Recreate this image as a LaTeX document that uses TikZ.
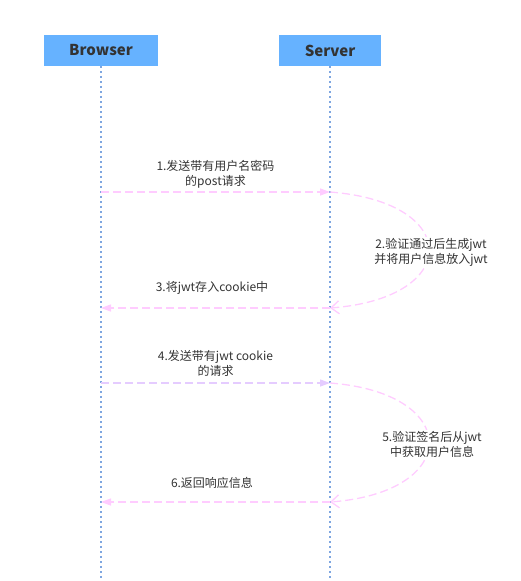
\documentclass[tikz,border=0pt]{standalone}
\usepackage{fontspec}
\setmainfont{Noto Sans CJK SC}
\usepackage{xcolor}
\usetikzlibrary{arrows.meta}
\definecolor{hdblue}{HTML}{66B2FF}
\definecolor{lifeblue}{HTML}{7EA6E0}
\definecolor{msgpink}{HTML}{FFCCFF}
\definecolor{msglilac}{HTML}{E5CCFF}
\definecolor{txtgray}{HTML}{333333}
\tikzset{
  actor/.style={fill=hdblue,minimum height=31pt,inner sep=0pt,text=txtgray,font=\fontsize{15}{17}\selectfont\bfseries},
  life/.style={lifeblue,line width=1.5pt,dash pattern=on 1.5pt off 3.5pt},
  msg/.style={line width=1.3pt,dash pattern=on 8pt off 4pt,-{Triangle[length=10pt,width=7pt]}},
  ret/.style={line width=1.3pt,dash pattern=on 8pt off 4pt,-{Straight Barb[length=8pt,width=13pt]}},
  lbl/.style={text=txtgray,align=center,inner sep=1pt,font=\fontsize{12}{15}\selectfont}
}

\begin{document}
\begin{tikzpicture}[x=1pt,y=-1pt]
\useasboundingbox (0,0) rectangle (521,581);
% actors and lifelines
\node[actor,minimum width=114pt] (browser) at (101,50.5) {Browser};
\node[actor,minimum width=102pt] (server) at (330,50.5) {Server};
\coordinate (bEnd) at (101,581); \coordinate (sEnd) at (330,581);
\draw[life] (browser.south) -- (bEnd);
\draw[life] (server.south) -- (sEnd);
% message points
\coordinate (b1) at (101,192); \coordinate (s1) at (330,192);
\coordinate (s2) at (330,308); \coordinate (b2) at (101,308);
\coordinate (b3) at (101,383); \coordinate (s3) at (330,383);
\coordinate (s4) at (330,502); \coordinate (b4) at (101,502);
% login round
\draw[msg,msgpink] (b1) -- (s1); \node[lbl] (m1) at (215.5,174.5) {1.发送带有用户名密码\\的post请求};
\draw[ret,msgpink] (s1) .. controls (462,202) and (462,298) .. (s2);
\node[lbl,fill=white] (m2) at (431,252) {2.验证通过后生成jwt\\并将用户信息放入jwt};
\draw[msg,msgpink] (s2) -- (b2); \node[lbl] (m3) at (212,288) {3.将jwt存入cookie中};
% request round
\draw[msg,msglilac] (b3) -- (s3); \node[lbl] (m4) at (215.5,363.5) {4.发送带有jwt cookie\\的请求};
\draw[ret,msgpink] (s3) .. controls (462,393) and (462,492) .. (s4);
\node[lbl,fill=white] (m5) at (432,444.5) {5.验证签名后从jwt\\中获取用户信息};
\draw[msg,msgpink] (s4) -- (b4); \node[lbl] (m6) at (212,483) {6.返回响应信息};
\end{tikzpicture}
\end{document}
